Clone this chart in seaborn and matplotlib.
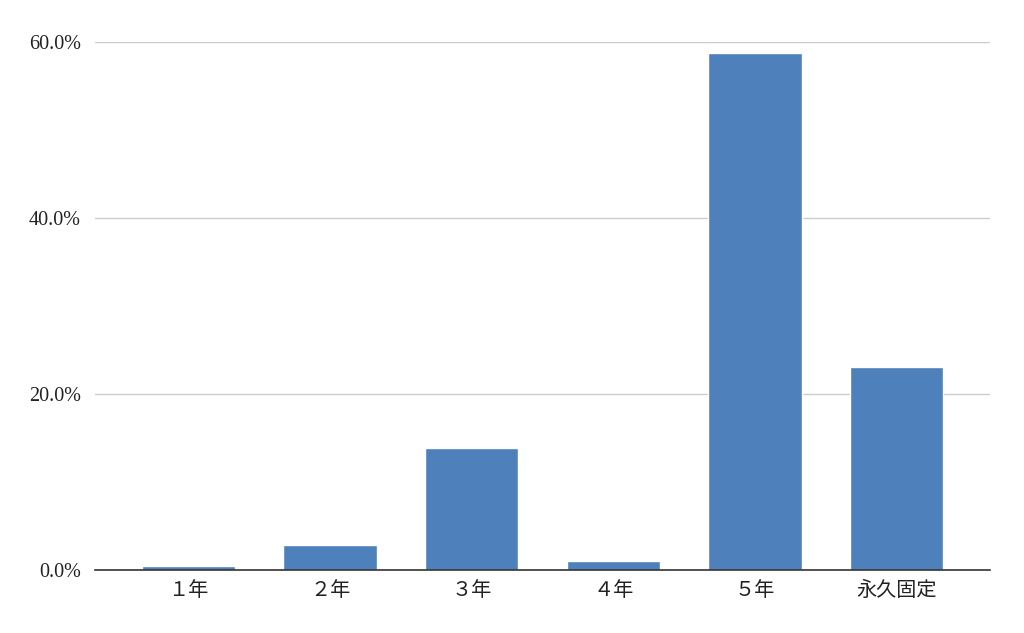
import numpy as np
import pandas as pd
import seaborn as sns
import matplotlib.pyplot as plt
from matplotlib.ticker import FuncFormatter

categories = ["１年", "２年", "３年", "４年", "５年", "永久固定"]
shares = [0.5, 2.8, 13.9, 1.0, 58.8, 23.1]

data = pd.DataFrame({"期間": categories, "割合": shares})

sns.set_theme(style="white")
plt.rcParams['font.family'] = ['Noto Sans CJK JP', 'DejaVu Sans']

fig = plt.figure(figsize=(10.24, 6.33), dpi=100)
ax = fig.add_axes([95 / 1024, 1 - 570 / 633, (990 - 95) / 1024, (570 - 42) / 633])

sns.barplot(data=data, x="期間", y="割合", color="#4e80bc", saturation=1,
            width=0.66, ax=ax, zorder=3)

ax.set_xlim(-0.66, 5.66)
ax.set_ylim(0, 60)
ax.set_yticks([0, 20, 40, 60])
ax.yaxis.set_major_formatter(FuncFormatter(lambda v, p: f"{v:.1f}%"))
ax.grid(axis="y", color="#cccccc", linewidth=1, zorder=0)
ax.set_xlabel("")
ax.set_ylabel("")

for s in ["top", "right", "left"]:
    ax.spines[s].set_visible(False)
ax.spines["bottom"].set_color("#333333")
ax.spines["bottom"].set_linewidth(1.2)
ax.spines["bottom"].set_zorder(4)

ax.tick_params(axis="both", length=0)
ax.tick_params(axis="x", pad=7, labelsize=14.5, labelcolor="#222222")
ax.tick_params(axis="y", pad=10, labelcolor="#222222")
for lab in ax.get_yticklabels():
    lab.set_fontfamily("Liberation Serif")
    lab.set_fontsize(14.5)

fig.savefig("out.png", dpi=100)
